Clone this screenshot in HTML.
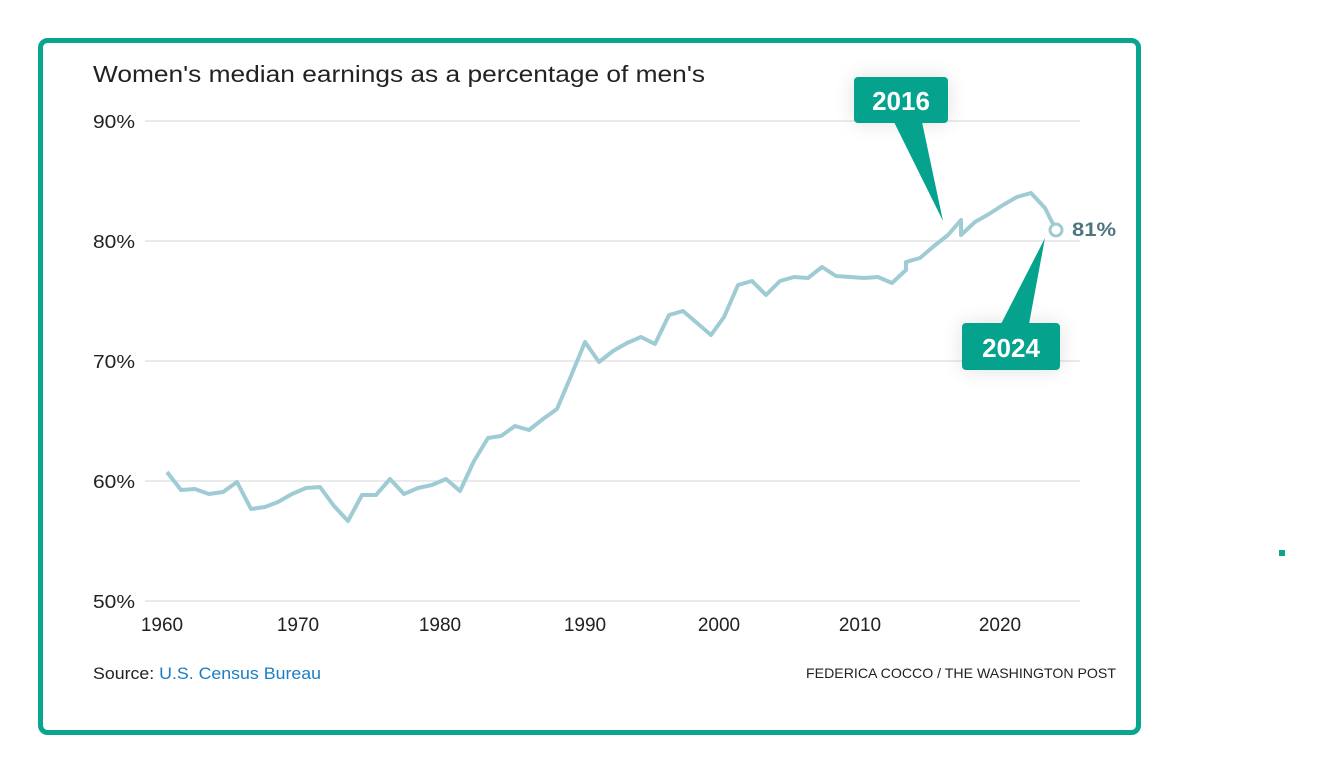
<!DOCTYPE html>
<html><head><meta charset="utf-8"><style>
html,body{margin:0;padding:0;background:#fff;}
svg{display:block;font-family:"Liberation Sans",sans-serif;}
</style></head><body>
<svg width="1323" height="773" viewBox="0 0 1323 773">
<defs>
<filter id="sh" x="-50%" y="-50%" width="200%" height="200%"><feGaussianBlur stdDeviation="10"/></filter>
</defs>
<rect x="40.5" y="40.5" width="1098" height="692" rx="7" fill="#fff" stroke="#0aa58f" stroke-width="5"/>
<rect x="1279" y="550" width="6" height="6" fill="#0aa58f"/>
<text x="93" y="82" font-size="23" fill="#222" textLength="612" lengthAdjust="spacingAndGlyphs">Women's median earnings as a percentage of men's</text>
<g stroke="#e3e3e3" stroke-width="1.5">
<line x1="145" y1="121" x2="1080" y2="121"/>
<line x1="145" y1="241" x2="1080" y2="241"/>
<line x1="145" y1="361" x2="1080" y2="361"/>
<line x1="145" y1="481" x2="1080" y2="481"/>
<line x1="145" y1="601" x2="1080" y2="601"/>
</g>
<g font-size="18" fill="#222">
<text x="93" y="128" textLength="42" lengthAdjust="spacingAndGlyphs">90%</text>
<text x="93" y="248" textLength="42" lengthAdjust="spacingAndGlyphs">80%</text>
<text x="93" y="368" textLength="42" lengthAdjust="spacingAndGlyphs">70%</text>
<text x="93" y="488" textLength="42" lengthAdjust="spacingAndGlyphs">60%</text>
<text x="93" y="608" textLength="42" lengthAdjust="spacingAndGlyphs">50%</text>
</g>
<g font-size="19" fill="#222" text-anchor="middle">
<text x="162" y="631">1960</text>
<text x="298" y="631">1970</text>
<text x="440" y="631">1980</text>
<text x="585" y="631">1990</text>
<text x="719" y="631">2000</text>
<text x="860" y="631">2010</text>
<text x="1000" y="631">2020</text>
</g>
<polyline fill="none" stroke="#9fcbd4" stroke-width="4" stroke-linejoin="round" points="
167,472 181,490 195,489 209,494 223,492 237,482 251,509 265,507 278,502 292,494 306,488 320,487 334,506 348,521 362,495 376,495 390,479 404,494 418,488 432,485 446,479 460,491 474,461 488,438 501,436 515,426 529,430 543,419 557,409 571,376 585,342 599,362 613,351 627,343 641,337 655,344 669,315 683,311 697,323 711,335 724,317 738,285 752,281 766,295 780,281 794,277 808,278 822,267 836,276 850,277 864,278 878,277 892,283 906,270 906,262 920,258 934,246 948,235 961,220 961,235 975,222 989,214 1003,205 1017,197 1031,193 1045,208 1056,230"/>
<circle cx="1056" cy="230" r="6" fill="#fff" stroke="#9fcbd4" stroke-width="3"/>
<text x="1072" y="236" font-size="19" font-weight="bold" fill="#4e7580" textLength="44" lengthAdjust="spacingAndGlyphs">81%</text>
<g>
<rect x="854" y="77" width="94" height="46" rx="4" fill="#000" opacity="0.12" filter="url(#sh)"/>
<polygon points="894,122 922,122 943,221" fill="#05a38d"/>
<rect x="854" y="77" width="94" height="46" rx="4" fill="#05a38d"/>
<text x="901" y="110" font-size="26" font-weight="bold" fill="#fff" text-anchor="middle">2016</text>
<rect x="962" y="323" width="98" height="47" rx="4" fill="#000" opacity="0.12" filter="url(#sh)"/>
<polygon points="1001,324 1029,324 1045,238" fill="#05a38d"/>
<rect x="962" y="323" width="98" height="47" rx="4" fill="#05a38d"/>
<text x="1011" y="357" font-size="26" font-weight="bold" fill="#fff" text-anchor="middle">2024</text>
</g>
<text x="93" y="679" font-size="17" fill="#222" textLength="228" lengthAdjust="spacingAndGlyphs">Source: <tspan fill="#1a7fc1">U.S. Census Bureau</tspan></text>
<text x="1116" y="678" font-size="14" fill="#222" text-anchor="end" textLength="310" lengthAdjust="spacingAndGlyphs">FEDERICA COCCO / THE WASHINGTON POST</text>
</svg>
</body></html>
